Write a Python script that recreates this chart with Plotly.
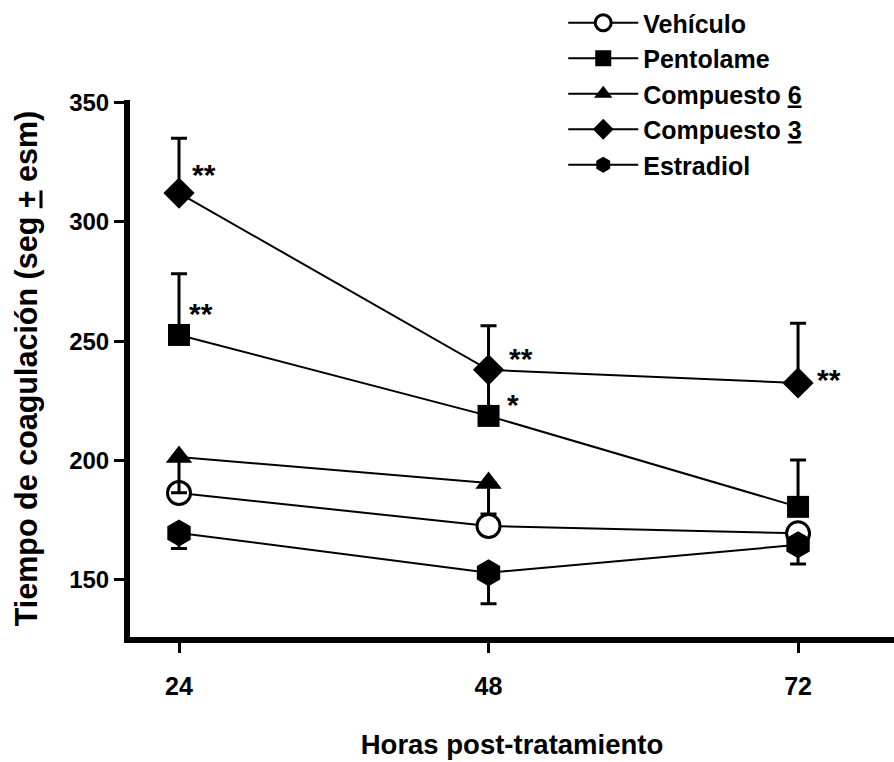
import plotly.graph_objects as go

# Hours after treatment
hours = [24, 48, 72]
hours_c6 = [24, 48]

# Mean clotting time (s) and SEM per group
vehiculo = [186.4, 172.6, 169.5]
pentolame = [252.6, 218.7, 180.6]
pentolame_sem = [25.6, 19.0, 19.6]
compuesto6 = [201.5, 190.6]
compuesto6_sem = [15.0, 13.0]
compuesto3 = [312.0, 238.0, 232.5]
compuesto3_sem = [23.0, 18.5, 25.0]
estradiol = [169.7, 153.0, 164.7]
estradiol_sem = [6.5, 13.0, 8.0]

# Significance marks
sig_x = [25.9, 25.7, 50.5, 49.9, 74.4]
sig_y = [321.0, 262.7, 243.9, 224.6, 235.0]
sig_text = ["**", "**", "**", "*", "**"]

FONT = "Liberation Sans, Arial, sans-serif"
LW = 2

def up(vals):
    return dict(type="data", symmetric=False, array=vals, arrayminus=[0] * len(vals),
                color="black", thickness=3, width=8)

def down(vals):
    return dict(type="data", symmetric=False, array=[0] * len(vals), arrayminus=vals,
                color="black", thickness=3, width=8)

fig = go.Figure()
fig.add_trace(go.Scatter(
    x=hours, y=vehiculo, name="Vehículo", mode="lines+markers",
    line=dict(color="black", width=LW),
    marker=dict(symbol="circle", size=23, color="white", line=dict(color="black", width=3)),
))
fig.add_trace(go.Scatter(
    x=hours, y=pentolame, name="Pentolame", mode="lines+markers",
    line=dict(color="black", width=LW),
    marker=dict(symbol="square", size=22, color="black"),
    error_y=up(pentolame_sem),
))
fig.add_trace(go.Scatter(
    x=hours_c6, y=compuesto6, name="Compuesto <u>6</u>", mode="lines+markers",
    line=dict(color="black", width=LW),
    marker=dict(symbol="triangle-up", size=23, color="black"),
    error_y=down(compuesto6_sem),
))
fig.add_trace(go.Scatter(
    x=hours, y=compuesto3, name="Compuesto <u>3</u>", mode="lines+markers",
    line=dict(color="black", width=LW),
    marker=dict(symbol="diamond", size=24, color="black"),
    error_y=up(compuesto3_sem),
))
fig.add_trace(go.Scatter(
    x=hours, y=estradiol, name="Estradiol", mode="lines+markers",
    line=dict(color="black", width=LW),
    marker=dict(symbol="hexagon", size=27, color="black"),
    error_y=down(estradiol_sem),
))

for sx, sy, st in zip(sig_x, sig_y, sig_text):
    fig.add_annotation(x=sx, y=sy, text=st, showarrow=False,
                       font=dict(family=FONT, size=30, color="black", weight="bold"),
                       yshift=-3)

fig.update_layout(
    width=894, height=762,
    margin=dict(l=130, r=0, t=100, b=125, autoexpand=False),
    paper_bgcolor="white", plot_bgcolor="white",
    font=dict(family=FONT, color="black"),
    showlegend=True,
    legend=dict(
        xref="container", yref="container", x=0.630, y=1.006,
        xanchor="left", yanchor="top",
        font=dict(family=FONT, size=25, color="black", weight="bold"),
        itemwidth=70, tracegroupgap=0, bgcolor="rgba(0,0,0,0)",
    ),
    xaxis=dict(
        range=[20.2, 79.44], tickvals=hours, ticktext=[str(h) for h in hours],
        showline=True, linecolor="black", linewidth=6,
        ticks="outside", ticklen=10, tickwidth=3, tickcolor="black",
        ticklabelstandoff=12,
        showgrid=False, zeroline=False,
        tickfont=dict(family=FONT, size=25, color="black", weight="bold"),
        title=dict(text="Horas post-tratamiento", standoff=38,
                   font=dict(family=FONT, size=27.5, color="black", weight="bold")),
    ),
    yaxis=dict(
        range=[126.1, 351], tickvals=[150, 200, 250, 300, 350],
        showline=True, linecolor="black", linewidth=6,
        ticks="outside", ticklen=10, tickwidth=3, tickcolor="black",
        showgrid=False, zeroline=False,
        tickfont=dict(family=FONT, size=24, color="black", weight="bold"),
        title=dict(text="Tiempo de coagulación (seg <u>+</u> esm)", standoff=24,
                   font=dict(family=FONT, size=30.5, color="black", weight="bold")),
    ),
)

fig.write_html("out.html")
